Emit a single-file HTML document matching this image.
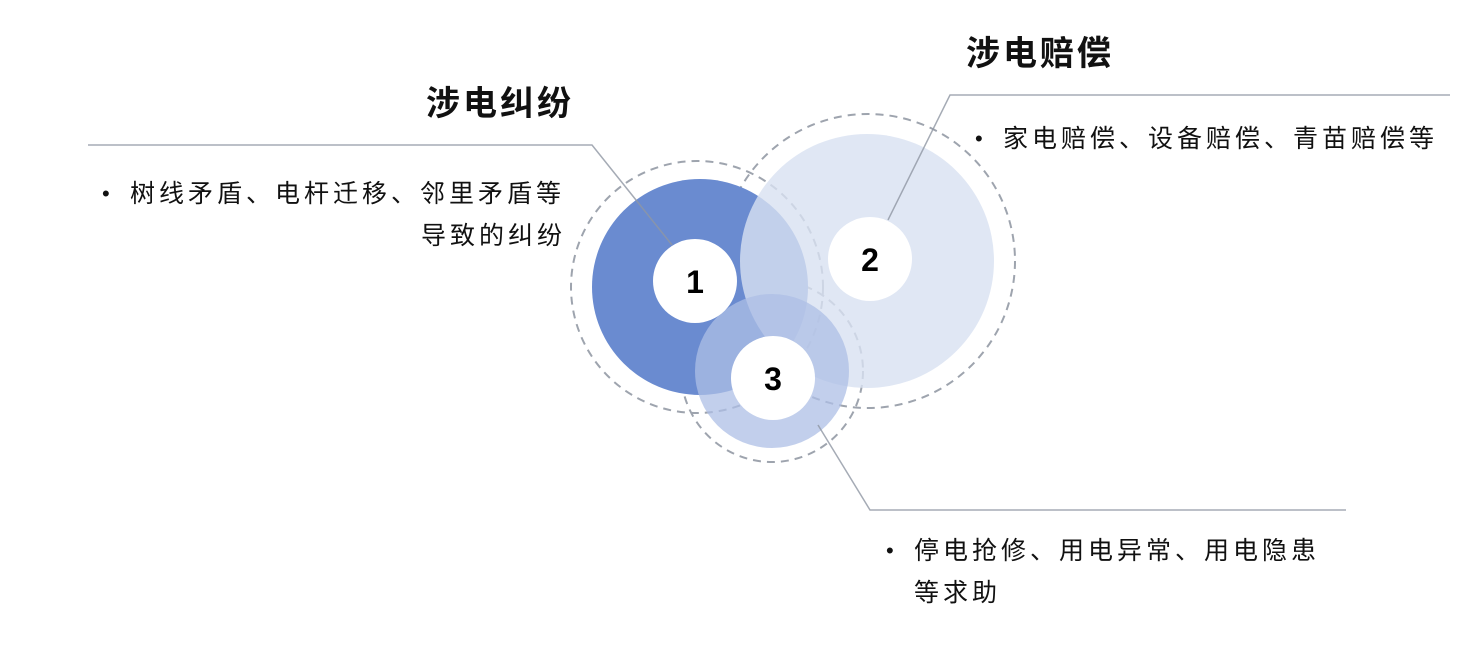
<!DOCTYPE html>
<html><head><meta charset="utf-8"><style>
html,body{margin:0;padding:0;background:#fff;}
body{width:1472px;height:649px;overflow:hidden;position:relative;font-family:"Liberation Sans","Noto Sans CJK SC",sans-serif;}
svg{position:absolute;left:0;top:0;}
.t{position:absolute;white-space:nowrap;color:#111;}
.b{font-size:25px;letter-spacing:4px;line-height:30px;}
.h{font-size:34px;font-weight:bold;letter-spacing:3px;line-height:40px;}
.dot{position:absolute;font-size:22px;line-height:30px;}
</style></head><body>
<svg width="1472" height="649" viewBox="0 0 1472 649">
<g fill="none" stroke="#9ea4ae" stroke-width="2" stroke-dasharray="8,6">
<circle cx="697" cy="287" r="126"/>
<circle cx="868" cy="261" r="147"/>
<circle cx="772" cy="371" r="91"/>
</g>
<circle cx="700" cy="287" r="108" fill="#6a8bd0"/>
<circle cx="867" cy="261" r="127" fill="#d8e1f1" fill-opacity="0.8"/>
<circle cx="772" cy="371" r="77" fill="#aebfe6" fill-opacity="0.75"/>
<g fill="none" stroke="#8e96a3" stroke-width="1.5" stroke-opacity="0.8">
<polyline points="88,145 592,145 672,245"/>
<polyline points="1450,95 950,95 888,220"/>
<polyline points="818,425 870,510 1346,510"/>
</g>
<circle cx="695" cy="281" r="42" fill="#fff"/>
<circle cx="870" cy="259" r="42" fill="#fff"/>
<circle cx="773" cy="378" r="42" fill="#fff"/>
<g font-family="Liberation Sans, sans-serif" font-weight="bold" font-size="32" text-anchor="middle" fill="#000">
<text x="695" y="293">1</text>
<text x="870" y="271">2</text>
<text x="773" y="390">3</text>
</g>
</svg>
<div class="t h" style="left:426px;top:84px;">涉电纠纷</div>
<div class="t h" style="left:966px;top:34px;">涉电赔偿</div>
<div class="t dot" style="left:102px;top:179px;">•</div>
<div class="t b" style="left:130px;top:179px;">树线矛盾、电杆迁移、邻里矛盾等</div>
<div class="t b" style="left:421px;top:221px;">导致的纠纷</div>
<div class="t dot" style="left:975px;top:124px;">•</div>
<div class="t b" style="left:1003px;top:124px;">家电赔偿、设备赔偿、青苗赔偿等</div>
<div class="t dot" style="left:886px;top:536px;">•</div>
<div class="t b" style="left:914px;top:536px;">停电抢修、用电异常、用电隐患</div>
<div class="t b" style="left:914px;top:578px;">等求助</div>
</body></html>
